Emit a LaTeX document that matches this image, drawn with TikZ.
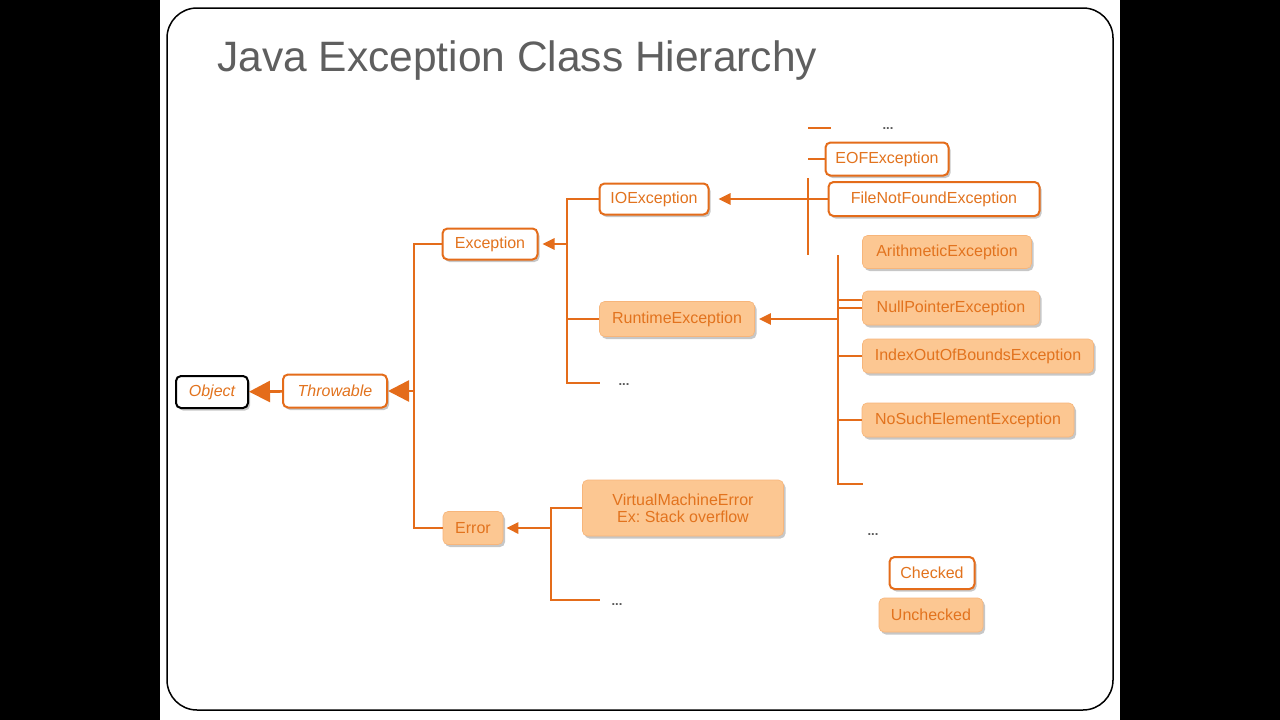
\documentclass[tikz,border=0pt]{standalone}
\usepackage{fontspec}
\setmainfont{Liberation Sans}
\usetikzlibrary{arrows.meta,shadows}
\definecolor{orline}{HTML}{E46C1A}
\definecolor{ortext}{HTML}{E2731E}
\definecolor{orfill}{HTML}{FCC792}
\definecolor{titlegrey}{HTML}{5F5F5F}
\newcommand{\boxfont}{\fontsize{16}{19}\selectfont}
\frenchspacing
\begin{document}
\begin{tikzpicture}[x=1pt,y=-1pt,
  box/.style={draw=orline,fill=white,line width=2pt,rounded corners=5pt,text=ortext,
    font=\boxfont,inner sep=0pt,align=center,
    drop shadow={shadow xshift=2pt,shadow yshift=-2.5pt,fill=black,opacity=0.22}},
  fbox/.style={box,draw=orfill!80!orline,line width=0.6pt,fill=orfill},
  dots/.style={font=\bfseries\fontsize{13}{13}\selectfont,text=black!65,inner sep=0pt},
  conn/.style={draw=orline,line width=2.6pt},
  arr/.style={conn,-{Triangle[length=12pt,width=11pt]}},
  bigarr/.style={conn,-{Triangle[length=21pt,width=21pt]}}]
\useasboundingbox (0,0) rectangle (1280,720);
\fill[black] (0,0) rectangle (1280,720);
\fill[white] (160,0) rectangle (1120,720);
\draw[line width=1.5pt,rounded corners=30pt] (167,8) rectangle (1113,710);
\node[anchor=west,text=titlegrey,font=\fontsize{42.5}{48}\selectfont,inner sep=0pt] (title) at (217,61) {Java Exception Class Hierarchy};
% root
\node[box,draw=black,minimum width=72pt,minimum height=32pt] (obj) at (212,392) {\itshape Object};
\node[box,minimum width=104pt,minimum height=33pt] (thr) at (335,391) {\itshape Throwable};
\node[box,minimum width=95pt,minimum height=31pt] (exc) at (490,244) {Exception};
\node[fbox,minimum width=60pt,minimum height=33pt] (err) at (473,528) {Error};
% exception subclasses
\node[box,minimum width=109pt,minimum height=31pt] (ioe) at (654,199) {IOException};
\node[fbox,minimum width=155pt,minimum height=35pt] (rte) at (677,319) {RuntimeException};
\node[dots] (more1) at (624,385) {...};
% io subclasses
\node[dots] (more2) at (888,129) {...};
\node[box,minimum width=123pt,minimum height=33pt] (eof) at (887,159) {EOFException};
\node[box,minimum width=211pt,minimum height=34pt] (fnf) at (934,199) {FileNotFoundException};
% runtime subclasses
\node[fbox,minimum width=169pt,minimum height=33pt] (ari) at (947,252) {ArithmeticException};
\node[fbox,minimum width=177pt,minimum height=34pt] (npe) at (951,308) {NullPointerException};
\node[fbox,minimum width=231pt,minimum height=34pt] (iob) at (978,356) {IndexOutOfBoundsException};
\node[fbox,minimum width=212pt,minimum height=34pt] (nse) at (968,420) {NoSuchElementException};
\node[dots] (more3) at (873,535) {...};
% error subclasses
\node[fbox,minimum width=201pt,minimum height=56pt] (vme) at (683,508) {VirtualMachineError\\[-2pt]Ex: Stack overflow};
\node[dots] (more4) at (617,605) {...};
% legend
\node[box,minimum width=85pt,minimum height=32pt] (chk) at (932,573) {Checked};
\node[fbox,minimum width=104pt,minimum height=34pt] (unc) at (931,615) {Unchecked};
% Throwable level
\draw[bigarr] (thr) -- (obj);
\coordinate (jT) at (414,391);
\draw[conn] (exc.west) -| (jT) |- (err.west);
\draw[bigarr] (jT) -- (thr);
% Exception level
\coordinate (jE) at (567,244);
\coordinate (eEnd) at (600,383);
\draw[conn] (ioe.west) -| (jE) |- (eEnd);
\draw[conn] (rte.west) -| (jE);
\draw[arr,shorten >=4pt] (jE) -- (exc);
% IOException level
\coordinate (jI) at (808,199);
\coordinate (iTop) at (808,178);
\coordinate (iBot) at (808,255);
\coordinate (iEof) at (808,159);
\coordinate (iMore) at (808,128);
\coordinate (iMoreEnd) at (831,128);
\draw[conn] (iTop) -- (iBot);
\draw[conn] (jI) -- (fnf);
\draw[conn] (iEof) -- (eof);
\draw[conn] (iMore) -- (iMoreEnd);
\draw[arr,shorten >=9pt] (jI) -- (ioe);
% RuntimeException level
\coordinate (jR) at (838,319);
\coordinate (rTop) at (838,255);
\coordinate (rBot) at (838,484);
\coordinate (rBotEnd) at (863,484);
\coordinate (rNpe) at (838,300);
\draw[conn] (rTop) -- (rBot) -- (rBotEnd);
\draw[conn] (rNpe) -- (rNpe -| npe.west);
\draw[conn] (npe.west -| jR) -- (npe.west);
\draw[conn] (iob.west -| jR) -- (iob.west);
\draw[conn] (nse.west -| jR) -- (nse.west);
\draw[arr,shorten >=4pt] (jR) -- (rte);
% Error level
\coordinate (jV) at (551,528);
\coordinate (vEnd) at (600,600);
\draw[conn] (vme.west) -| (jV) |- (vEnd);
\draw[arr,shorten >=3pt] (jV) -- (err);
\end{tikzpicture}
\end{document}
